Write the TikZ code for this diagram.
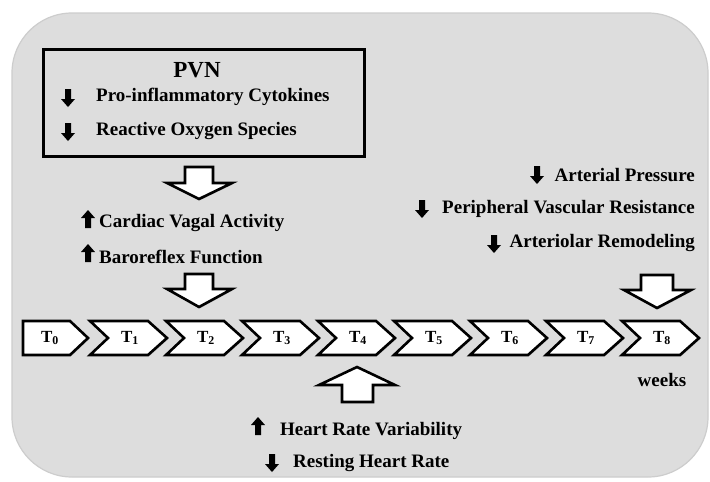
\documentclass[tikz,border=0pt]{standalone}
\usepackage{fontspec}
\setmainfont{Liberation Serif}
\usetikzlibrary{shadows}
\definecolor{panel}{RGB}{221,221,221}
\definecolor{edge}{RGB}{205,205,205}
\begin{document}
\begin{tikzpicture}[x=1pt,y=-1pt,
  lbl/.style={font=\fontsize{19}{22}\selectfont\bfseries, inner sep=0pt},
  tlbl/.style={font=\fontsize{17}{19}\selectfont\bfseries, inner sep=0pt},
  chev/.style={draw=black, line width=2.6pt, fill=white, line join=miter,
    drop shadow={shadow xshift=1.2pt, shadow yshift=-1.2pt, opacity=0.45}},
  hollow/.style={draw=black, line width=2.6pt, fill=white, line join=miter, miter limit=10,
    drop shadow={shadow xshift=1.2pt, shadow yshift=-1.2pt, opacity=0.45}},
  dn/.pic={\fill[black] (-3,-9) -- (3,-9) -- (3,1) -- (7,1) -- (0,9) -- (-7,1) -- (-3,1) -- cycle;},
  upi/.pic={\fill[black] (-3,9) -- (3,9) -- (3,-1) -- (7,-1) -- (0,-9) -- (-7,-1) -- (-3,-1) -- cycle;}
]
\useasboundingbox (0,0) rectangle (710,482);
% background panel
\fill[white] (0,0) rectangle (710,482);
\filldraw[fill=panel, draw=edge, line width=1.2pt, rounded corners=60pt] (12,13) rectangle (708,477);

% PVN box
\node (pvn) [draw=black, line width=2.6pt, minimum width=321pt, minimum height=107pt,
  anchor=north west, inner sep=0pt] at (42,48) {};
\node (pvnt) [font=\fontsize{23}{26}\selectfont\bfseries, inner sep=0pt] at (197,70) {PVN};
\node (pic) [lbl, anchor=west] at (96,97) {Pro-inflammatory Cytokines};
\node (ros) [lbl, anchor=west] at (96,131) {Reactive Oxygen Species};
\pic at (68,98) {dn};
\pic at (68,132) {dn};

% arrow 1
\coordinate (a1) at (199,199);
\draw[hollow, shift={(a1)}] (0,0) -- (-32,-16) -- (-14,-16) -- (-14,-32) -- (14,-32) -- (14,-16) -- (33,-16) -- cycle;

\node (cva) [lbl, anchor=west] at (99,223) {Cardiac Vagal Activity};
\node (bf) [lbl, anchor=west] at (99,257) {Baroreflex Function};
\pic at (88,219) {upi};
\pic at (88,253) {upi};

% arrow 2
\coordinate (a2) at (199,307);
\draw[hollow, shift={(a2)}] (0,0) -- (-32,-18) -- (-14,-18) -- (-14,-33) -- (14,-33) -- (14,-18) -- (33,-18) -- cycle;

% right texts
\node (ap) [lbl, anchor=east] at (695,175) {Arterial Pressure};
\node (pvr) [lbl, anchor=east] at (695,209) {Peripheral Vascular Resistance};
\node (arm) [lbl, anchor=east] at (695,243) {Arteriolar Remodeling};
\pic at (537,175) {dn};
\pic at (422,209) {dn};
\pic at (494,244) {dn};

% arrow above T8
\coordinate (a3) at (657,308);
\draw[hollow, shift={(a3)}] (0,0) -- (-33,-18) -- (-16,-18) -- (-16,-33) -- (16,-33) -- (16,-18) -- (34,-18) -- cycle;

% timeline
\draw[chev] (23,321) -- (70,321) -- (88,338) -- (70,355) -- (23,355) -- cycle;
\node (t0) [tlbl] at (50,338) {T\textsubscript{0}};
\foreach \k in {1,...,8}{
  \pgfmathsetmacro{\xo}{90+76*(\k-1)}
  \draw[chev] (\xo,321) -- ++(58,0) -- ++(19,17) -- ++(-19,17) -- ++(-58,0) -- ++(18,-17) -- cycle;
  \node (t\k) [tlbl] at (\xo+40,338) {T\textsubscript{\k}};
}
\node (wk) [lbl] at (662,380) {weeks};

% up arrow below T4
\coordinate (a4) at (357,367);
\draw[hollow, shift={(a4)}] (0,0) -- (-38,18) -- (-15,18) -- (-15,35) -- (16,35) -- (16,18) -- (38,18) -- cycle;

\node (hrv) [lbl, anchor=west] at (280,431) {Heart Rate Variability};
\node (rhr) [lbl, anchor=west] at (293,463) {Resting Heart Rate};
\pic at (258,426) {upi};
\pic at (272,463) {dn};
\end{tikzpicture}
\end{document}
